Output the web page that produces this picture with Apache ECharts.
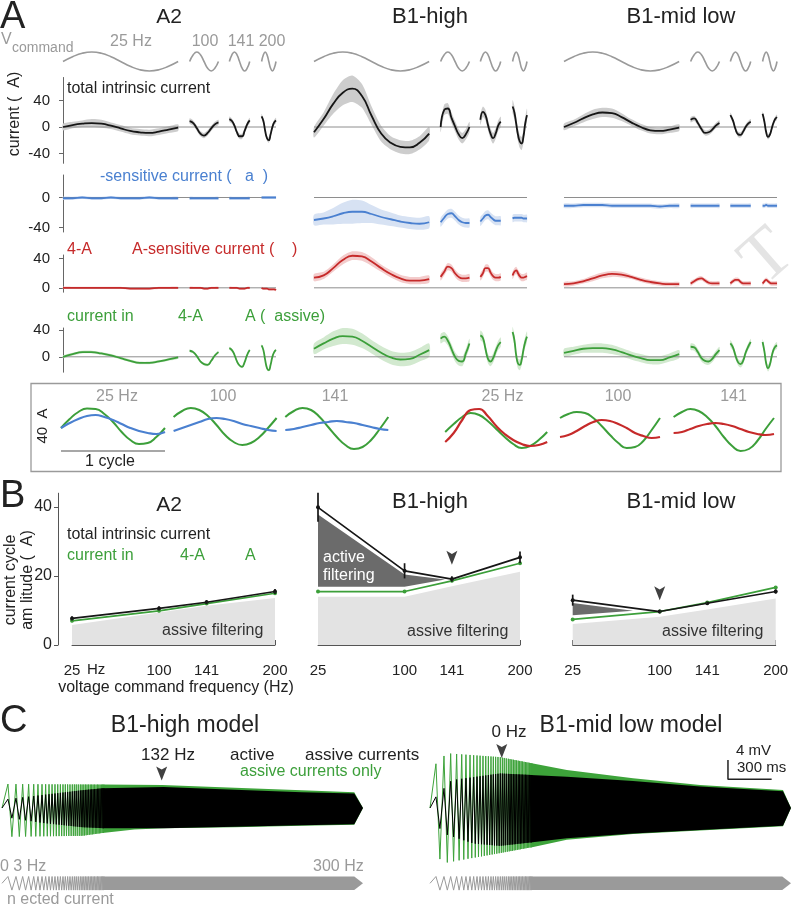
<!DOCTYPE html>
<html><head><meta charset="utf-8">
<script src="https://cdn.jsdelivr.net/npm/echarts@6/dist/echarts.min.js"></script>
<style>html,body{margin:0;padding:0;background:#fff}#c{width:800px;height:907px}</style>
</head><body><div id="c"></div>
<script>
// ================= DATA =================
// ---- Panel A: one cycle per command frequency (values in pA)
// 25 Hz cycle sampled at phase 0,1/12,...,1 ; the short cycles at 0,1/8,...,1
const freqLabels = ['25 Hz', '100', '141', '200'];
const segStart = [0, 44, 57.8, 69];      // ms on the time axis
const segPeriod = [40, 10, 7.07, 5];     // ms (one cycle)
const phase12 = [0, 0.0833, 0.1667, 0.25, 0.3333, 0.4167, 0.5, 0.5833, 0.6667, 0.75, 0.8333, 0.9167, 1];
const phase8 = [0, 0.125, 0.25, 0.375, 0.5, 0.625, 0.75, 0.875, 1];
const vcmd25 = [0, 0.5, 0.87, 1, 0.87, 0.5, 0, -0.5, -0.87, -1, -0.87, -0.5, 0];
const vcmd = [0, 0.71, 1, 0.71, 0, -0.71, -1, -0.71, 0];

// A2
const a2Total = [[0,3,5,6,5,2,-2,-6,-8,-9,-7,-4,-1],[9,6,-2,-10,-13,-9,-2,4,7],[12,9,2,-8,-14,-14,-6,4,10],[16,9,-6,-17,-20,-11,0,7,10]];
const a2TotalSd = [[5,5,5,6,6,5,5,5,5,5,5,5,5],[4,4,4,4,4,4,4,4,4],[4,4,4,4,4,4,4,4,4],[4,4,4,4,4,4,4,4,4]];
const a2K = [[-1,-1,0,-1,-1,0,-1,-1,-1,0,-1,-1,-1],[-1,-1,-1,-1,-1,-1,-1,-1,-1],[-1,-1,-1,-1,-1,-1,-1,-1,-1],[0,0,0,0,0,0,0,0,0]];
const a2KSd = [[2,2,2,2,2,2,2,2,2,2,2,2,2],[2,2,2,2,2,2,2,2,2],[2,2,2,2,2,2,2,2,2],[2,2,2,2,2,2,2,2,2]];
const a2R = [[0,0,0,0,0,0,0,-1,-1,-1,0,0,0],[0,0,0,0,-1,-1,0,0,0],[0,0,0,0,-1,-1,-1,0,0],[0,-1,-1,-1,-2,-2,-2,-2,-3]];
const a2RSd = [[1.5,1.5,1.5,1.5,1.5,1.5,1.5,1.5,1.5,1.5,1.5,1.5,1.5],[1.5,1.5,1.5,1.5,1.5,1.5,1.5,1.5,1.5],[1.5,1.5,1.5,1.5,1.5,1.5,1.5,1.5,1.5],[1.5,1.5,1.5,1.5,1.5,1.5,1.5,1.5,1.5]];
const a2G = [[0,4,7,7,5,2,-2,-6,-9,-9,-7,-4,-1],[9,7,1,-7,-11,-12,-6,2,7],[13,10,3,-7,-13,-15,-8,3,10],[17,10,-5,-17,-20,-12,0,7,10]];
const a2GSd = [[2,2,2,2,2,2,2,2,2,2,2,2,2],[2,2,2,2,2,2,2,2,2],[2,2,2,2,2,2,2,2,2],[2,2,2,2,2,2,2,2,2]];

// B1-high
const hiTotal = [[-8,12,35,52,58,47,17,-10,-24,-30,-31,-24,-10],[0,26,28,14,1,-11,-17,-11,0],[11,23,18,3,-10,-17,-10,2,8],[31,22,5,-12,-22,-25,-15,5,18]];
const hiTotalSd = [[8,10,15,19,20,18,14,12,10,10,10,10,10],[8,8,8,8,8,8,8,8,8],[8,8,8,8,8,8,8,8,8],[10,10,10,10,10,10,10,10,10]];
const hiK = [[-30,-28,-25,-21,-19,-19,-22,-26,-29,-32,-34,-35,-33],[-33,-27,-22,-21,-25,-30,-33,-34,-34],[-32,-28,-24,-23,-26,-29,-31,-31,-31],[-28,-27,-27,-27,-27,-27,-28,-28,-28]];
const hiKSd = [[7,8,11,14,16,15,12,10,9,8,8,8,8],[6,6,6,6,6,6,6,6,6],[6,6,6,6,6,6,6,6,6],[5,5,5,5,5,5,5,5,5]];
const hiR = [[14,17,27,38,44,43,36,27,19,13,10,10,12],[15,22,29,27,20,15,13,13,14],[15,20,27,27,21,16,14,14,15],[17,22,24,20,16,14,14,15,16]];
const hiRSd = [[5,5,5,6,6,6,6,5,5,5,5,5,5],[5,5,5,5,5,5,5,5,5],[5,5,5,5,5,5,5,5,5],[5,5,5,5,5,5,5,5,5]];
const hiG = [[12,20,27,31,30,24,15,6,-1,-4,-3,3,10],[27,30,24,12,0,-6,-7,5,20],[32,28,12,-3,-7,-2,8,17,22],[37,25,2,-10,-12,-5,10,22,30]];
const hiGSd = [[8,9,11,12,12,11,10,10,10,10,10,10,10],[7,7,7,7,7,7,7,7,7],[7,7,7,7,7,7,7,7,7],[8,8,8,8,8,8,8,8,8]];

// B1-mid low
const mlTotal = [[0,6,13,19,22,21,15,7,0,-5,-6,-4,-1],[11,13,6,-3,-9,-8,-4,2,6],[18,10,-3,-11,-12,-7,0,5,8],[20,8,-8,-15,-12,-3,6,12,15]];
const mlTotalSd = [[5,5,6,7,7,7,6,5,5,5,5,5,5],[4,4,4,4,4,4,4,4,4],[4,4,4,4,4,4,4,4,4],[4,4,4,4,4,4,4,4,4]];
const mlK = [[-11,-11,-10,-10,-10,-11,-11,-11,-11,-11,-12,-11,-11],[-11,-11,-11,-11,-11,-11,-11,-11,-11],[-11,-11,-11,-11,-11,-11,-11,-11,-11],[-11,-11,-10,-11,-11,-11,-11,-11,-11]];
const mlKSd = [[3,3,3,3,3,3,3,3,3,3,3,3,3],[3,3,3,3,3,3,3,3,3],[3,3,3,3,3,3,3,3,3],[3,3,3,3,3,3,3,3,3]];
const mlR = [[5,6,9,13,17,19,18,15,11,8,6,5,5],[6,9,12,13,10,7,6,6,6],[6,9,11,11,8,6,6,6,6],[6,9,11,9,7,6,6,6,6]];
const mlRSd = [[3,3,3,4,4,4,4,3,3,3,3,3,3],[3,3,3,3,3,3,3,3,3],[3,3,3,3,3,3,3,3,3],[3,3,3,3,3,3,3,3,3]];
const mlG = [[6,9,12,13,13,11,7,2,-2,-5,-5,-1,4],[15,14,7,-2,-6,-7,-3,4,10],[20,14,2,-8,-11,-6,6,15,22],[22,8,-10,-17,-12,0,10,15,17]];
const mlGSd = [[6,6,6,7,7,7,6,6,6,6,6,6,6],[5,5,5,5,5,5,5,5,5],[5,5,5,5,5,5,5,5,5],[5,5,5,5,5,5,5,5,5]];

// ---- Inset: one cycle, phase 0..1 (pA)
const insetLabels = ['25 Hz', '100', '141'];
const insetLeftGreen = [[2,11,18,21.5,21,16,8,-2,-10,-14,-13,-7,2],[13,19,22,20,14,5,-5,-12,-15,-13,-7,2,12],[13,19,22,20,13,3,-7,-15,-19,-17,-10,1,13]];
const insetLeftBlue = [[2,7,11,14,15,13,10,6,2,-1,-3,-4,-2],[-1,2,5,8,11,12,11,9,6,4,2,0,-1],[0,1,3,5,7,8,9,8,7,5,3,1,0]];
const insetRightGreen = [[-2,6,13,17,15,9,1,-7,-14,-18,-16,-10,-2],[12,16,18,17,12,4,-5,-13,-18,-17,-11,0,12],[13,18,21,19,13,4,-7,-16,-21,-19,-11,1,12]];
const insetRightRed = [[-12,-3,10,20,21,14,4,-4,-10,-14,-16,-15,-12],[-7,-5,-1,4,8,10,9,6,2,-3,-6,-8,-7],[-3,-2,1,4,6,7,6,4,1,-2,-4,-5,-4]];

// ---- Panel B: current cycle amplitude (pA) vs command frequency
const bFreq = [25, 100, 141, 200];
const bTotalA2 = [7.7, 10.6, 12.4, 15.5], bTotalA2Err = [0.6, 0.6, 0.6, 0.7];
const bGreenA2 = [7.0, 9.9, 12.0, 15.0];
const bPassiveA2 = [5.8, 9.4, 11.4, 13.6];
const bTotalHi = [39.9, 21.5, 19.1, 25.4], bTotalHiErr = [4.2, 2.2, 0.8, 1.7];
const bGreenHi = [15.5, 15.5, 18.6, 23.7];
const bPassiveHi = [14.0, 14.0, 17.0, 21.2];
const bActiveHiF = [25, 100, 135], bActiveHiTop = [37.8, 20.4, 19.0], bActiveHiBot = [16.9, 16.9, 19.0];
const bTotalMl = [13.0, 9.7, 12.1, 15.5], bTotalMlErr = [1.6, 0.5, 0.5, 0.6];
const bGreenMl = [7.4, 9.7, 12.3, 16.7];
const bPassiveMl = [6.1, 8.2, 10.3, 13.5];
const bActiveMlF = [25, 77], bActiveMlTop = [12.2, 9.9], bActiveMlBot = [8.6, 9.9];
const bGreenErr = [0.4, 0.4, 0.4, 0.4];

// ---- Panel C: chirp responses (time ms, membrane potential mV)
const chirpT = [41,68,96,119,142,162,183,200,218,232,247,261,275,287,300,311,323,333,344,354,364,373,383,392,401,410,419,427,435,443,451,459,467,475,483,490,497,503,510,517,524,531,538,544,550,556,562,567,573,578,584,589,595,600,606,611,616,621,626,631,636,641,646,651,656,660,665,669,674,678,683,687,692,696,701];
const hiGreenTopT = [0, 1100, 1600, 2060, 2420, 2480], hiGreenTopV = [5.0, 4.8, 4.2, 3.7, 3.3, 0];
const hiGreenBotT = [0, 550, 690, 910, 1110, 1600, 2060, 2420, 2480], hiGreenBotV = [-6.0, -5.8, -5.2, -4.5, -4.2, -4.0, -3.7, -3.5, 0];
const hiBlackTopT = [0, 275, 550, 690, 1110, 1600, 2060, 2420, 2480], hiBlackTopV = [1.7, 2.7, 3.7, 4.1, 4.4, 3.8, 3.3, 3.0, 0];
const hiBlackBotT = [0, 275, 550, 690, 1110, 1600, 2060, 2420, 2480], hiBlackBotV = [-1.8, -3.1, -4.0, -4.2, -4.2, -3.9, -3.6, -3.4, 0];
const mlGreenTopT = [0, 115, 480, 940, 1395, 1855, 2425, 2480], mlGreenTopV = [8.0, 11.4, 10.6, 7.9, 6.2, 4.8, 3.75, 0];
const mlGreenBotT = [0, 90, 480, 710, 940, 1395, 1855, 2425, 2480], mlGreenBotV = [-8.0, -11.5, -9.4, -8.1, -6.6, -5.4, -4.7, -3.8, 0];
const mlBlackTopT = [0, 149, 481, 941, 1395, 1855, 2425, 2480], mlBlackTopV = [1.0, 5.8, 7.2, 6.5, 5.6, 4.5, 3.5, 0];
const mlBlackBotT = [0, 89, 300, 481, 941, 1395, 1855, 2425, 2480], mlBlackBotV = [-1.0, -5.3, -7.4, -7.9, -6.3, -5.3, -4.6, -3.7, 0];
const stimT = [0, 2420, 2480], stimTop = [1, 1, 0], stimBot = [-1, -1, 0];
const arrowHi = [1097, 7.2], arrowMl = [493, 11.9];
const scaleBar = [[2047, 10], [2047, 6], [2347, 6]];

// ================= BUILD =================
const FONT = '"Liberation Sans", Arial, Helvetica, sans-serif';
const GRAY = '#9a9a9a', BLACK = '#161616', BLUE = '#4a80d0', RED = '#c62a2a', GREEN = '#3c9f3a';
const grids = [], xAxes = [], yAxes = [], series = [], graphics = [];

function grid(left, top, width, height, xmin, xmax, ymin, ymax, xOpt, yOpt) {
  const gi = grids.length;
  grids.push({left, top, width, height, containLabel: false});
  xAxes.push(Object.assign({type: 'value', gridIndex: gi, min: xmin, max: xmax, show: false, splitLine: {show: false}}, xOpt || {}));
  yAxes.push(Object.assign({type: 'value', gridIndex: gi, min: ymin, max: ymax, show: false, splitLine: {show: false}}, yOpt || {}));
  return gi;
}
function line(gi, pts, color, width, o) {
  o = o || {};
  series.push({type: 'line', xAxisIndex: gi, yAxisIndex: gi, data: pts,
    symbol: o.symbol || 'none', symbolSize: o.symbolSize || 4, showSymbol: !!o.symbol,
    smooth: o.smooth === undefined ? 0.5 : o.smooth, clip: false, silent: true,
    lineStyle: {color, width}, itemStyle: {color}, areaStyle: o.area, z: o.z || 3, animation: false});
}
function poly(gi, upper, lower, color, o) {
  o = o || {};
  series.push({type: 'custom', xAxisIndex: gi, yAxisIndex: gi, silent: true, clip: false, z: o.z || 1,
    data: [[upper[0][0], upper[0][1]]],
    renderItem: (p, api) => {
      const pts = upper.map(d => api.coord(d)).concat(lower.slice().reverse().map(d => api.coord(d)));
      return {type: 'polygon', shape: {points: pts, smooth: o.smooth || 0}, style: {fill: color}};
    }});
}
function errbars(gi, xs, ys, es, color, w) {
  series.push({type: 'custom', xAxisIndex: gi, yAxisIndex: gi, silent: true, clip: false, z: 6,
    data: xs.map((x, i) => [x, ys[i] - es[i], ys[i] + es[i]]), encode: {x: 0, y: [1, 2]},
    renderItem: (p, api) => {
      const a = api.coord([api.value(0), api.value(1)]), b = api.coord([api.value(0), api.value(2)]);
      return {type: 'line', shape: {x1: a[0], y1: a[1], x2: b[0], y2: b[1]}, style: {stroke: color, lineWidth: w}};
    }});
}
const ARROW = 'path://M0,0 L10,5 L20,0 L10,22 Z';
function arrow(gi, pt) {
  series.push({type: 'scatter', xAxisIndex: gi, yAxisIndex: gi, data: [pt], symbol: ARROW, symbolSize: [11, 14],
    itemStyle: {color: '#111'}, silent: true, z: 8, clip: false});
}
function txt(text, x, y, o) {
  o = o || {};
  graphics.push({type: 'text', x, y, rotation: o.rot || 0, silent: true, z: 100,
    style: {text, fill: o.color || '#222', fontSize: o.size || 16, fontFamily: o.font || FONT,
      textAlign: o.align || 'left', textVerticalAlign: 'middle', align: o.align || 'left', verticalAlign: 'middle'}});
}
function segPhase(s) { return s === 0 ? phase12 : phase8; }
function segX(s) { return segPhase(s).map(p => segStart[s] + p * segPeriod[s]); }

// ---------- Panel A ----------
const colLeft = [63, 314, 564];
const XMAX = 74, COLW = 213;
const rowsA = [
  {key: 'total', top: 77.5, h: 85.8, min: -55, max: 75, color: BLACK, band: '#cdcdcd', ticks: [-40, 0, 40]},
  {key: 'k', top: 175, h: 57, min: -46, max: 30, color: BLUE, band: '#d7e2f3', ticks: [-40, 0]},
  {key: 'r', top: 255, h: 37.2, min: -6, max: 45, color: RED, band: '#f3cccc', ticks: [0, 40]},
  {key: 'g', top: 328, h: 44.2, min: -23, max: 43, color: GREEN, band: '#d2e9cf', ticks: [0, 40]}
];
const colData = [
  {total: a2Total, totalSd: a2TotalSd, k: a2K, kSd: a2KSd, r: a2R, rSd: a2RSd, g: a2G, gSd: a2GSd},
  {total: hiTotal, totalSd: hiTotalSd, k: hiK, kSd: hiKSd, r: hiR, rSd: hiRSd, g: hiG, gSd: hiGSd},
  {total: mlTotal, totalSd: mlTotalSd, k: mlK, kSd: mlKSd, r: mlR, rSd: mlRSd, g: mlG, gSd: mlGSd}
];
colLeft.forEach((left, c) => {
  const gv = grid(left, 52, COLW, 19, 0, XMAX, -1, 1);
  for (let s = 0; s < 4; s++) {
    const xs = segX(s), v = s === 0 ? vcmd25 : vcmd;
    line(gv, xs.map((x, i) => [x, v[i]]), GRAY, 1.6);
  }
  rowsA.forEach(r => {
    const yOpt = c === 0 ? {
      show: true, offset: 6,
      axisLine: {show: true, lineStyle: {color: '#666', width: 1}},
      axisTick: {show: true, length: 4, customValues: r.ticks, lineStyle: {color: '#666'}},
      axisLabel: {show: true, customValues: r.ticks, fontSize: 15, color: '#222', margin: 7, fontFamily: FONT}
    } : null;
    const gi = grid(left, r.top, COLW, r.h, 0, XMAX, r.min, r.max, null, yOpt);
    line(gi, [[0, 0], [XMAX, 0]], '#8e8e8e', 1, {smooth: false, z: 2});
    const vals = colData[c][r.key], sds = colData[c][r.key + 'Sd'];
    for (let s = 0; s < 4; s++) {
      const xs = segX(s);
      poly(gi, xs.map((x, i) => [x, vals[s][i] + sds[s][i]]), xs.map((x, i) => [x, vals[s][i] - sds[s][i]]), r.band, {smooth: 0.25});
      line(gi, xs.map((x, i) => [x, vals[s][i]]), r.color, 1.8);
    }
  });
});

// ---------- Inset ----------
const insetBlocks = [[61, 104], [173.6, 103], [285.3, 103], [445.2, 102], [560, 100], [673.6, 100.4]];
insetBlocks.forEach((b, k) => {
  const gi = grid(b[0], 405, b[1], 50, 0, 1, -25, 25);
  const j = k % 3;
  const green = k < 3 ? insetLeftGreen[j] : insetRightGreen[j];
  const other = k < 3 ? insetLeftBlue[j] : insetRightRed[j];
  line(gi, phase12.map((p, i) => [p, green[i]]), GREEN, 2);
  line(gi, phase12.map((p, i) => [p, other[i]]), k < 3 ? BLUE : RED, 2.2, {z: 4});
  if (k === 0) {
    line(gi, [[0, -21], [1, -21]], '#8a8a8a', 1.5, {smooth: false});
    line(gi, [[-0.04, 23], [-0.04, -17]], '#777', 1.5, {smooth: false});
  }
});
graphics.push({type: 'rect', silent: true, z: 0, shape: {x: 31, y: 383.5, width: 750, height: 88}, style: {fill: 'none', stroke: '#9a9a9a', lineWidth: 1.3}});
[117, 223, 335].forEach((x, i) => txt(insetLabels[i], x, 397, {align: 'center', color: GRAY}));
[502.5, 618, 733.5].forEach((x, i) => txt(insetLabels[i], x, 397, {align: 'center', color: GRAY}));
txt('1 cycle', 110, 462, {align: 'center'});
txt('40  A', 43, 426, {align: 'center', rot: Math.PI / 2, size: 15});

// ---------- Panel B ----------
const bLeft = [72, 318, 572.7], bW = [203, 202, 203];
const bSets = [
  {total: bTotalA2, err: bTotalA2Err, green: bGreenA2, passive: bPassiveA2, arrow: null},
  {total: bTotalHi, err: bTotalHiErr, green: bGreenHi, passive: bPassiveHi, aF: bActiveHiF, aT: bActiveHiTop, aB: bActiveHiBot, arrow: [141, 25.3]},
  {total: bTotalMl, err: bTotalMlErr, green: bGreenMl, passive: bPassiveMl, aF: bActiveMlF, aT: bActiveMlTop, aB: bActiveMlBot, arrow: [100, 15.0]}
];
bSets.forEach((d, c) => {
  const xOpt = {show: true, position: 'bottom', offset: 10,
    axisLine: {show: true, lineStyle: {color: '#555', width: 1}},
    axisTick: {show: true, inside: true, length: 5, customValues: bFreq, lineStyle: {color: '#555'}},
    axisLabel: {show: true, customValues: bFreq, fontSize: 15, color: '#222', margin: 8, fontFamily: FONT}};
  const yOpt = c === 0 ? {show: true, offset: 14,
    axisLine: {show: true, lineStyle: {color: '#555', width: 1}},
    axisTick: {show: true, length: 4, customValues: [0, 20, 40], lineStyle: {color: '#555'}},
    axisLabel: {show: true, customValues: [0, 20, 40], fontSize: 16, color: '#222', margin: 6, fontFamily: FONT}} : null;
  const gi = grid(bLeft[c], 493.2, bW[c], 151.8, 25, 200, 0, 44, xOpt, yOpt);
  line(gi, bFreq.map((f, i) => [f, d.passive[i]]), '#e3e3e3', 0, {smooth: false, area: {color: '#e3e3e3', opacity: 1}, z: 1});
  if (d.aF) poly(gi, d.aF.map((f, i) => [f, d.aT[i]]), d.aF.map((f, i) => [f, d.aB[i]]), '#6b6b6b', {z: 2});
  line(gi, bFreq.map((f, i) => [f, d.green[i]]), GREEN, 1.7, {smooth: false, symbol: 'circle', symbolSize: 4, z: 4});
  errbars(gi, bFreq, d.green, bGreenErr, GREEN, 1.5);
  line(gi, bFreq.map((f, i) => [f, d.total[i]]), BLACK, 1.7, {smooth: false, symbol: 'circle', symbolSize: 4, z: 5});
  errbars(gi, bFreq, d.total, d.err, BLACK, 1.7);
  if (d.arrow) arrow(gi, d.arrow);
});

// ---------- Panel C ----------
const SOLID_FROM = 690;
function interp(T, V, t) {
  if (t <= T[0]) return V[0];
  for (let i = 1; i < T.length; i++) if (t <= T[i]) return V[i - 1] + (V[i] - V[i - 1]) * (t - T[i - 1]) / (T[i] - T[i - 1]);
  return V[V.length - 1];
}
function chirpLine(tT, tV, bT, bV) {
  const pts = [[0, 0]];
  chirpT.forEach((t, i) => pts.push([t, i % 2 === 0 ? interp(tT, tV, t) : interp(bT, bV, t)]));
  return pts;
}
function chirpEnv(T, V) {
  const pts = [[SOLID_FROM, interp(T, V, SOLID_FROM)]];
  T.forEach((t, i) => { if (t > SOLID_FROM) pts.push([t, V[i]]); });
  return pts;
}
function chirpTrace(gi, tT, tV, bT, bV, color, z) {
  line(gi, chirpLine(tT, tV, bT, bV), color, 1, {smooth: false, z});
  poly(gi, chirpEnv(tT, tV), chirpEnv(bT, bV), color, {z});
}
const cL = grid(2, 740.8, 361, 124.8, 0, 2480, -12, 14);
const cR = grid(430, 740.8, 361, 124.8, 0, 2480, -12, 14);
chirpTrace(cL, hiGreenTopT, hiGreenTopV, hiGreenBotT, hiGreenBotV, '#3da33a', 3);
chirpTrace(cL, hiBlackTopT, hiBlackTopV, hiBlackBotT, hiBlackBotV, '#000', 4);
chirpTrace(cR, mlGreenTopT, mlGreenTopV, mlGreenBotT, mlGreenBotV, '#3da33a', 3);
chirpTrace(cR, mlBlackTopT, mlBlackTopV, mlBlackBotT, mlBlackBotV, '#000', 4);
arrow(cL, arrowHi);
arrow(cR, arrowMl);
line(cR, scaleBar, '#222', 1.5, {smooth: false, z: 6});
const sL = grid(2, 876.5, 361, 13.6, 0, 2480, -1, 1);
const sR = grid(430, 876.5, 361, 13.6, 0, 2480, -1, 1);
chirpTrace(sL, stimT, stimTop, stimT, stimBot, '#9a9a9a', 3);
chirpTrace(sR, stimT, stimTop, stimT, stimBot, '#9a9a9a', 3);

// ---------- Texts ----------
// Panel A
txt('A', 0, 18, {size: 38});
txt('A2', 169, 17, {size: 21, align: 'center'});
txt('B1-high', 430, 17, {size: 22, align: 'center'});
txt('B1-mid low', 681, 17, {size: 22, align: 'center'});
txt('V', 1, 40, {size: 16, color: GRAY});
txt('command', 12, 48, {size: 14, color: GRAY});
[131, 205, 241, 272].forEach((x, i) => txt(freqLabels[i], x, 42, {align: 'center', color: GRAY}));
txt('total intrinsic current', 67, 89);
txt('-sensitive current (   a  )', 100, 177, {color: BLUE});
txt('4-A', 67, 250, {color: RED});
txt('A-sensitive current (    )', 132, 250, {color: RED});
txt('current in', 67, 317, {color: GREEN});
txt('4-A', 178, 317, {color: GREEN});
txt('A (  assive)', 245, 317, {color: GREEN});
txt('current (  A)', 15, 114, {align: 'center', rot: Math.PI / 2});
txt('T', 768, 258, {size: 72, color: '#e4e4e4', align: 'center', rot: 0.72, font: '"Liberation Serif", serif'});
// Panel B
txt('B', 0, 497, {size: 38});
txt('A2', 169, 505, {size: 21, align: 'center'});
txt('B1-high', 430, 502, {size: 22, align: 'center'});
txt('B1-mid low', 681, 502, {size: 22, align: 'center'});
txt('total intrinsic current', 67, 535);
txt('current in', 67, 556, {color: GREEN});
txt('4-A', 180, 556, {color: GREEN});
txt('A', 245, 556, {color: GREEN});
txt('active', 323, 558, {color: '#fff'});
txt('filtering', 323, 576, {color: '#fff'});
txt('assive filtering', 162, 631, {color: '#333'});
txt('assive filtering', 407, 631.7, {color: '#333'});
txt('assive filtering', 662, 631.7, {color: '#333'});
txt('current cycle', 11, 580, {align: 'center', rot: Math.PI / 2});
txt('am litude (  A)', 28, 580, {align: 'center', rot: Math.PI / 2});
txt('Hz', 87, 670, {size: 15});
txt('voltage command frequency (Hz)', 176, 688, {align: 'center'});
// Panel C
txt('C', 0, 722, {size: 38});
txt('B1-high model', 185, 726, {size: 23, align: 'center'});
txt('B1-mid low model', 631, 726, {size: 23, align: 'center'});
txt('132 Hz', 168, 755, {size: 17, align: 'center'});
txt('active', 230, 755, {size: 17});
txt('assive currents', 305, 755, {size: 17});
txt('assive currents only', 240, 772, {size: 16, color: GREEN});
txt('0 Hz', 509, 732, {size: 17, align: 'center'});
txt('4 mV', 736, 751, {size: 15});
txt('300 ms', 737, 768, {size: 15});
txt('0 3 Hz', 0, 867, {color: GRAY});
txt('300 Hz', 313, 867, {color: GRAY});
txt('n ected current', 7, 900, {color: GRAY});

const chart = echarts.init(document.getElementById('c'), null, {renderer: 'canvas', width: 800, height: 907});
chart.setOption({
  animation: false,
  backgroundColor: '#fff',
  textStyle: {fontFamily: FONT},
  grid: grids, xAxis: xAxes, yAxis: yAxes, series: series, graphic: graphics
});
</script></body></html>
